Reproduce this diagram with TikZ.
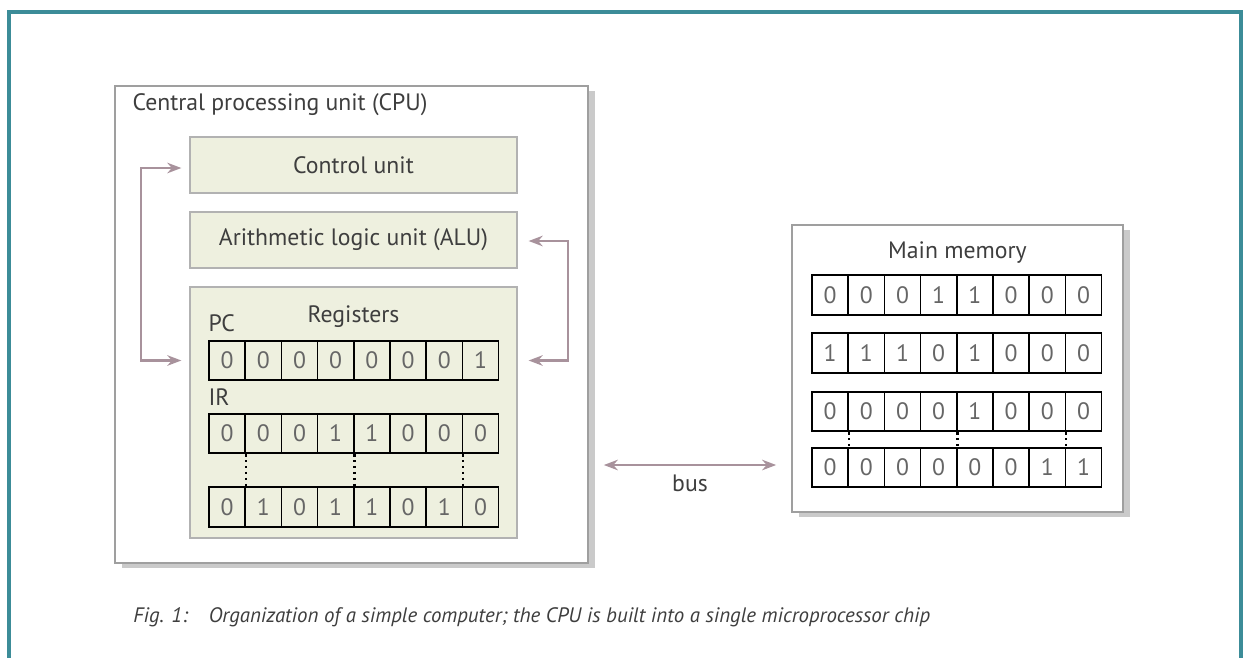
\documentclass[tikz,border=0pt]{standalone}
\usepackage{fontspec}
\setmainfont{PT Sans}
\usetikzlibrary{arrows.meta, positioning, calc, shadows}
\definecolor{framecol}{HTML}{3C8C98}
\definecolor{unitfill}{HTML}{EEF0DF}
\definecolor{linkcol}{HTML}{A8929C}
\definecolor{inkcol}{HTML}{3E3E3E}
\newcommand{\bitrow}[4]{%
  \foreach \b [count=\i] in {#4} {
    \node[cell] (#1\i) at ({#2+(\i-0.5)*36.2},#3) {\b};
  }}

\begin{document}
\begin{tikzpicture}[x=0.02cm, y=-0.02cm,
    outer/.style={draw=gray!75, line width=1pt, fill=white, inner sep=0pt,
      drop shadow={shadow xshift=4pt, shadow yshift=-3pt, fill=gray!70, opacity=0.6}},
    unit/.style={draw=gray!60, line width=0.8pt, fill=unitfill, inner sep=0pt,
      minimum width=6.54cm, font=\fontsize{13.5}{16}\selectfont, text=inkcol},
    cell/.style={draw=black, line width=0.9pt, minimum width=0.724cm, minimum height=0.79cm,
      inner sep=0pt, font=\fontsize{13.5}{15}\selectfont, text=gray!80!black},
    label/.style={font=\fontsize{13.5}{16}\selectfont, text=inkcol, inner sep=0pt},
    link/.style={draw=linkcol, line width=1.2pt, {Stealth[length=8pt,width=6pt]}-{Stealth[length=8pt,width=6pt]}},
    dots/.style={draw=black, line width=1.4pt, dotted}
  ]
  \useasboundingbox (0,0) rectangle (1249,657);
  % page frame
  \draw[draw=framecol, line width=1.8pt] (9,700) -- (9,12) -- (1241,12) -- (1241,700);

  % CPU side
  \node[outer, minimum width=9.46cm, minimum height=9.54cm] (cpu) at (351.5,324.5) {};
  \node[label, anchor=west] (cputitle) at ($(cpu.north west)+(18,19)$) {Central processing unit (CPU)};
  \node[unit, minimum height=1.12cm] (ctrl) at (353.5,165) {Control unit};
  \node[unit, minimum height=1.12cm] (alu) at (353.5,240) {Arithmetic logic unit (ALU)};
  \node[unit, minimum height=5.02cm] (regs) at (353.5,412.5) {};
  \node[label, below=17pt of regs.north, anchor=center] (regtitle) {Registers};

  \bitrow{pc}{209}{360.5}{0,0,0,0,0,0,0,1}
  \bitrow{ir}{209}{433.5}{0,0,0,1,1,0,0,0}
  \bitrow{irb}{209}{507}{0,1,0,1,1,0,1,0}
  \node[label, anchor=base west] (pclabel) at ($(pc1.north west)+(0,-8)$) {PC};
  \node[label, anchor=base west] (irlabel) at ($(ir1.north west)+(0,-7)$) {IR};
  \foreach \k in {1,4,7}
    \draw[dots] (ir\k.south east) -- (irb\k.north east);

  % main memory
  \node[outer, minimum width=6.62cm, minimum height=5.74cm] (mem) at (957.5,368.5) {};
  \node[label, below=16pt of mem.north, anchor=center] (memtitle) {Main memory};
  \bitrow{ma}{812}{295}{0,0,0,1,1,0,0,0}
  \bitrow{mb}{812}{353}{1,1,1,0,1,0,0,0}
  \bitrow{mc}{812}{411.5}{0,0,0,0,1,0,0,0}
  \bitrow{md}{812}{467.5}{0,0,0,0,0,0,1,1}
  \foreach \k in {1,4,7}
    \draw[dots] (mc\k.south east) -- (md\k.north east);

  % connectors
  \draw[link] ($(ctrl.west)+(-8,3)$) -- ++(-40,0) |- ($(regs.west |- pc1)+(-8,0)$);
  \draw[link] ($(alu.east)+(11,1)$) -- ++(39,0) |- ($(regs.east |- pc1)+(11,0)$);
  \coordinate (busy) at (0,465);
  \draw[link] ($(cpu.east |- busy)+(15,0)$) -- node[label, below=5pt] (buslabel) {bus} ($(mem.west |- busy)+(-15,0)$);

  % caption
  \node[anchor=west, inner sep=0pt, text=inkcol, font=\fontsize{11.9}{14}\selectfont\itshape] (caption) at (133,617)
    {Fig. 1:\quad Organization of a simple computer; the CPU is built into a single microprocessor chip};
\end{tikzpicture}
\end{document}
